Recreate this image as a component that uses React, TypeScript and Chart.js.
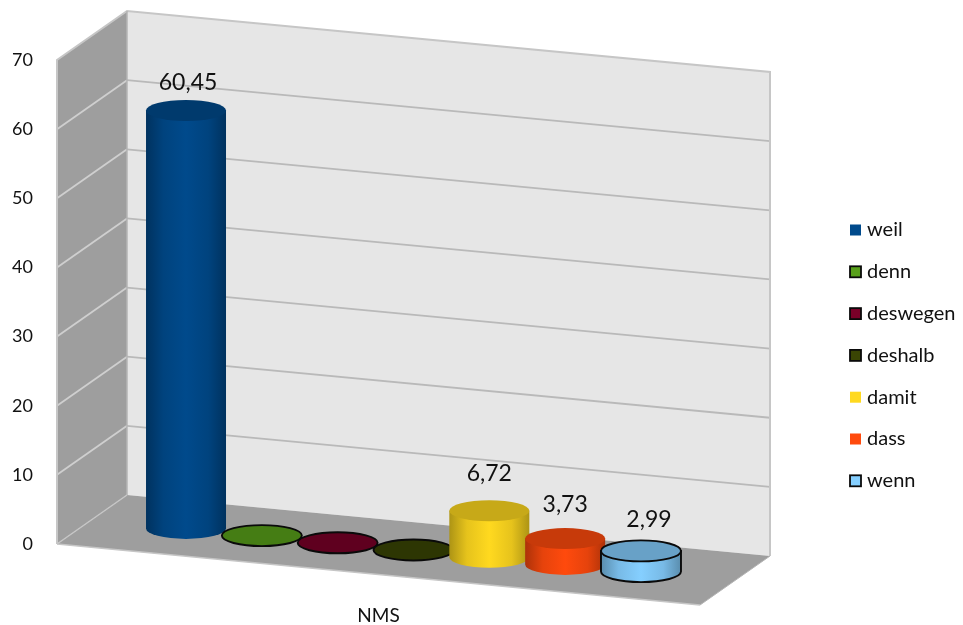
import React, { useEffect, useRef } from "react";
import { Chart, registerables } from "chart.js";

Chart.register(...registerables);

const categories = ["NMS"];
const seriesNames = ["weil", "denn", "deswegen", "deshalb", "damit", "dass", "wenn"];
const seriesValues = [60.45, 0, 0, 0, 6.72, 3.73, 2.99];
const seriesColors = ["#004A8C", "#58A01A", "#7A0028", "#3A4504", "#FFD91F", "#FF4A0D", "#85CFFF"];
const outlined = [false, true, true, true, false, false, true];
const yTicks = { min: 0, max: 70, step: 10 };

const FONT = "Lato, Carlito, sans-serif";
const TEXT = "#111111";

// Oblique projection of the plot box.
const DEPTH_X = 70;
const DEPTH_Y = 49;
const SLOPE = 0.0949;
const ELLIPSE_RY = 10.5;

// Nudge of each value caption relative to the top of its cylinder.
const captionNudge: Record<string, [number, number]> = {
  weil: [2, -28],
  damit: [0, -37],
  dass: [0, -34],
  wenn: [8, -31],
};

const shade = (hex: string, k: number) => {
  const n = parseInt(hex.slice(1), 16);
  const c = [(n >> 16) & 255, (n >> 8) & 255, n & 255].map((v) => Math.round(v * k));
  return `rgb(${c[0]},${c[1]},${c[2]})`;
};

const poly = (ctx: CanvasRenderingContext2D, pts: number[][], fill?: string) => {
  ctx.beginPath();
  pts.forEach(([x, y], i) => (i ? ctx.lineTo(x, y) : ctx.moveTo(x, y)));
  ctx.closePath();
  if (fill) {
    ctx.fillStyle = fill;
    ctx.fill();
  }
};

const seg = (
  ctx: CanvasRenderingContext2D,
  pts: number[][],
  color: string,
  width: number
) => {
  ctx.beginPath();
  pts.forEach(([x, y], i) => (i ? ctx.lineTo(x, y) : ctx.moveTo(x, y)));
  ctx.strokeStyle = color;
  ctx.lineWidth = width;
  ctx.stroke();
};

// Side walls, floor and gridlines, placed from the value scale.
const boxPlugin = {
  id: "box3d",
  beforeDatasetsDraw(chart: any) {
    const { ctx, chartArea, scales } = chart;
    const { left, right, top, bottom } = chartArea;
    const run = (right - left) * SLOPE;
    const bx = left + DEPTH_X;
    const brx = right + DEPTH_X;
    ctx.save();
    poly(ctx, [[left, top], [bx, top - DEPTH_Y], [bx, bottom - DEPTH_Y], [left, bottom]], "#9E9E9E");
    poly(
      ctx,
      [[bx, top - DEPTH_Y], [brx, top - DEPTH_Y + run], [brx, bottom - DEPTH_Y + run], [bx, bottom - DEPTH_Y]],
      "#E6E6E6"
    );
    poly(
      ctx,
      [[left, bottom], [bx, bottom - DEPTH_Y], [brx, bottom - DEPTH_Y + run], [right, bottom + run]],
      "#9E9E9E"
    );
    scales.y.ticks.forEach((t: any) => {
      const y = scales.y.getPixelForValue(t.value);
      if (t.value === yTicks.min || t.value === yTicks.max) return;
      seg(ctx, [[left, y], [bx, y - DEPTH_Y]], "#CFCFCF", 1.8);
      seg(ctx, [[bx, y - DEPTH_Y], [brx, y - DEPTH_Y + run]], "#B9B9B9", 1.8);
    });
    seg(ctx, [[left, bottom], [left, top], [bx, top - DEPTH_Y], [brx, top - DEPTH_Y + run], [brx, bottom - DEPTH_Y + run]], "#C6C6C6", 2);
    seg(ctx, [[bx, top - DEPTH_Y], [bx, bottom - DEPTH_Y]], "#B4B4B4", 1.5);
    seg(ctx, [[left, bottom], [bx, bottom - DEPTH_Y]], "#C6C6C6", 1.5);
    seg(ctx, [[left, bottom], [right, bottom + run]], "#C6C6C6", 1.5);
    seg(ctx, [[right, bottom + run], [brx, bottom - DEPTH_Y + run]], "#B4B4B4", 1);
    ctx.restore();
  },
  // Bars are replaced by the cylinders drawn below.
  beforeDatasetDraw() {
    return false;
  },
  afterDatasetsDraw(chart: any) {
    const { ctx, chartArea } = chart;
    const { left } = chartArea;
    chart.data.datasets.forEach((ds: any, i: number) => {
      const el = chart.getDatasetMeta(i).data[0];
      const cx = el.x + DEPTH_X / 2;
      const dy = (el.x - left) * SLOPE - DEPTH_Y / 2;
      const rx = el.width / 2;
      const baseY = el.base + dy;
      const topY = el.y + dy;
      const color = ds.backgroundColor;
      const hasEdge = ds.borderWidth > 0;

      ctx.save();
      if (baseY - topY > 0.5) {
        const g = ctx.createLinearGradient(cx - rx, 0, cx + rx, 0);
        g.addColorStop(0, shade(color, 0.68));
        g.addColorStop(0.22, shade(color, 0.9));
        g.addColorStop(0.5, shade(color, 1));
        g.addColorStop(0.78, shade(color, 0.9));
        g.addColorStop(1, shade(color, 0.68));
        ctx.beginPath();
        ctx.moveTo(cx - rx, topY);
        ctx.lineTo(cx - rx, baseY);
        ctx.ellipse(cx, baseY, rx, ELLIPSE_RY, 0, Math.PI, 0, true);
        ctx.lineTo(cx + rx, topY);
        ctx.closePath();
        ctx.fillStyle = g;
        ctx.fill();
        if (hasEdge) {
          ctx.strokeStyle = ds.borderColor;
          ctx.lineWidth = ds.borderWidth;
          ctx.stroke();
        }
      }
      ctx.beginPath();
      ctx.ellipse(cx, topY, rx, ELLIPSE_RY, 0, 0, Math.PI * 2);
      ctx.fillStyle = shade(color, 0.78);
      ctx.fill();
      if (hasEdge) {
        ctx.strokeStyle = ds.borderColor;
        ctx.lineWidth = ds.borderWidth;
        ctx.stroke();
      }
      const nudge = captionNudge[ds.label];
      if (nudge) {
        ctx.font = `23px ${FONT}`;
        ctx.fillStyle = TEXT;
        ctx.textAlign = "center";
        ctx.textBaseline = "middle";
        ctx.fillText(
          ds.data[0].toLocaleString("de-DE", { minimumFractionDigits: 2 }),
          cx + nudge[0],
          topY + nudge[1]
        );
      }
      ctx.restore();
    });
  },
  // Key on the right, one swatch per series.
  afterDraw(chart: any) {
    const { ctx } = chart;
    ctx.save();
    ctx.font = `20px ${FONT}`;
    ctx.textAlign = "left";
    ctx.textBaseline = "middle";
    chart.data.datasets.forEach((ds: any, i: number) => {
      const y = 230 + i * 41.8;
      ctx.fillStyle = ds.backgroundColor;
      ctx.fillRect(850, y - 5.5, 11, 11);
      if (ds.borderWidth > 0) {
        ctx.strokeStyle = ds.borderColor;
        ctx.lineWidth = 1.8;
        ctx.strokeRect(850, y - 5.5, 11, 11);
      }
      ctx.fillStyle = TEXT;
      ctx.fillText(ds.label, 867, y);
    });
    ctx.restore();
  },
};

export default function App() {
  const ref = useRef<HTMLCanvasElement>(null);

  useEffect(() => {
    const chart = new Chart(ref.current as HTMLCanvasElement, {
      type: "bar",
      data: {
        labels: categories,
        datasets: seriesNames.map((label, i) => ({
          label,
          data: [seriesValues[i]],
          backgroundColor: seriesColors[i],
          borderColor: "#0A0A0A",
          borderWidth: outlined[i] ? 1.9 : 0,
          categoryPercentage: 0.8255,
          barPercentage: 1.055,
        })),
      },
      options: {
        animation: false,
        responsive: false,
        layout: { padding: { left: 0, top: 60, right: 263, bottom: 0 } },
        plugins: { legend: { display: false }, tooltip: { enabled: false } },
        scales: {
          x: {
            grid: { display: false, drawTicks: false },
            border: { display: false },
            ticks: { color: TEXT, font: { family: FONT, size: 19 }, padding: 60, maxRotation: 0 },
            afterFit: (s: any) => {
              s.height = 81;
            },
          },
          y: {
            min: yTicks.min,
            max: yTicks.max,
            grid: { display: false, drawTicks: false },
            border: { display: false },
            ticks: { stepSize: yTicks.step, color: TEXT, font: { family: FONT, size: 18 }, padding: 24 },
            afterFit: (s: any) => {
              s.width = 57;
            },
          },
        },
      },
      plugins: [boxPlugin],
    } as any);
    return () => chart.destroy();
  }, []);

  return (
    <canvas
      ref={ref}
      width={963}
      height={625}
      style={{ position: "absolute", left: 0, top: 0, display: "block" }}
    />
  );
}
